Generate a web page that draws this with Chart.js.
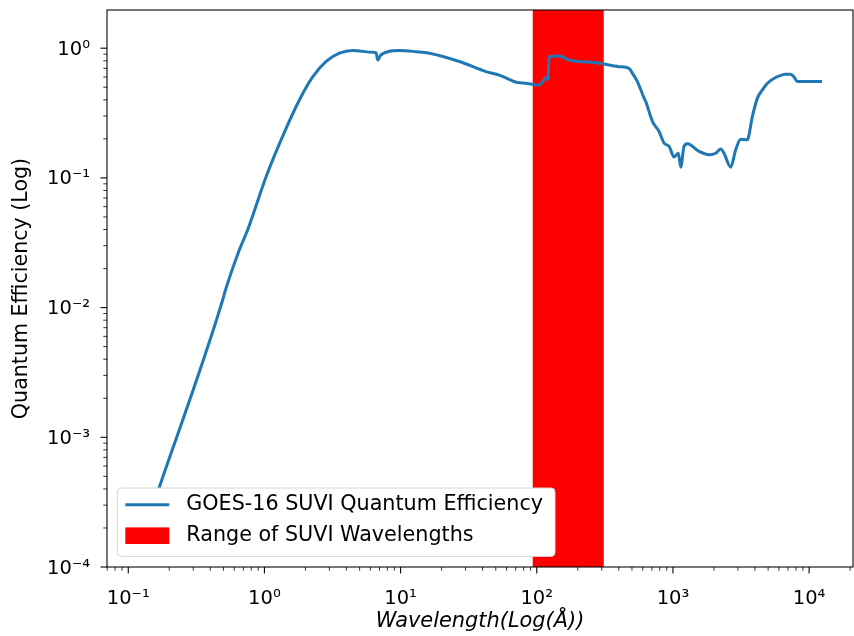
<!DOCTYPE html>
<html>
<head>
<meta charset="utf-8">
<script src="https://cdn.jsdelivr.net/npm/chart.js@4.4.1/dist/chart.umd.min.js"></script>
<style>
  html, body { margin: 0; padding: 0; background: #fff; }
  #wrap { width: 854px; height: 636px; }
</style>
</head>
<body>
<div id="wrap"><canvas id="qe" width="854" height="636"></canvas></div>
<script>
// GOES-16 SUVI quantum efficiency
const wavelength = [0.124, 0.170, 0.494, 0.509, 0.655, 0.755, 1.03, 1.36, 1.81, 2.26, 2.84,
  3.55, 4.45, 6.23, 6.6, 6.79, 7.18, 9.78, 13, 16.3, 27, 42.3, 53, 72.2, 83, 90.5, 104, 113, 120, 121, 123,
  146, 173, 183, 287, 402, 476, 504, 548, 614, 631, 708, 791, 861, 937, 1019, 1096, 1140, 1206, 1276, 1553,
  1840, 2061, 2241, 2371, 2654, 2890, 3144, 3516, 3828, 4169, 4539, 4942, 5675, 6725, 7315, 7745, 8190, 12140];
const quantumEff = [1.6e-4, 4.2e-4, 0.0115, 0.0129, 0.0279, 0.040, 0.1026, 0.209, 0.40, 0.60, 0.79,
  0.915, 0.96, 0.93, 0.925, 0.81, 0.89, 0.96, 0.94, 0.915, 0.79, 0.66, 0.62, 0.543, 0.537, 0.53, 0.52, 0.57, 0.60, 0.577, 0.86,
  0.87, 0.81, 0.80, 0.766, 0.72, 0.70, 0.64, 0.553, 0.412, 0.388, 0.272, 0.228, 0.185, 0.175, 0.145, 0.155, 0.121, 0.175, 0.183, 0.16,
  0.151, 0.155, 0.167, 0.155, 0.121, 0.165, 0.199, 0.197, 0.297, 0.412, 0.477, 0.537, 0.594, 0.631, 0.631, 0.60, 0.553, 0.553];

// shaded SUVI band (Angstrom)
const suviRange = [93, 311];

const xLimits = [0.0698, 21000];
const yLimits = [1e-4, 1.97];
const xMajor = [0.1, 1, 10, 100, 1000, 10000];
const xMajorLabels = ['10\u207B\u00B9', '10\u2070', '10\u00B9', '10\u00B2', '10\u00B3', '10\u2074'];
const yMajor = [1e-4, 1e-3, 1e-2, 1e-1, 1];
const yMajorLabels = ['10\u207B\u2074', '10\u207B\u00B3', '10\u207B\u00B2', '10\u207B\u00B9', '10\u2070'];

const legendLabels = ['GOES-16 SUVI Quantum Efficiency', 'Range of SUVI Wavelengths'];

const FONT = 'DejaVu Sans';
const LINE_BLUE = '#1f77b4';

function isPow10(v) {
  const l = Math.log10(v);
  return Math.abs(l - Math.round(l)) < 1e-9;
}

// all 1..9 x 10^n values between the limits
function logTicks(min, max) {
  const out = [];
  for (let e = Math.floor(Math.log10(min)); e <= Math.ceil(Math.log10(max)); e++) {
    for (let k = 1; k <= 9; k++) {
      const v = +(k * Math.pow(10, e)).toPrecision(6);
      if (v >= min * 0.9999 && v <= max * 1.0001) out.push({ value: v, major: k === 1 });
    }
  }
  return out;
}

function labelFor(majors, labels) {
  return (val) => {
    const i = majors.findIndex(m => Math.abs(Math.log10(m) - Math.log10(val)) < 1e-9);
    return i >= 0 ? labels[i] : '';
  };
}

function noPad(s) {
  s.paddingTop = 0; s.paddingBottom = 0; s.paddingLeft = 0; s.paddingRight = 0;
}

const frameAndLegend = {
  id: 'frameAndLegend',
  afterDraw(chart) {
    const ctx = chart.ctx;
    const a = chart.chartArea;
    const xs = chart.scales.x, ys = chart.scales.y;
    ctx.save();
    // tick marks
    ctx.strokeStyle = '#000';
    xs.ticks.forEach(t => {
      const px = xs.getPixelForValue(t.value);
      const major = isPow10(t.value);
      ctx.lineWidth = major ? 1.07 : 0.8;
      ctx.beginPath();
      ctx.moveTo(px, a.bottom);
      ctx.lineTo(px, a.bottom + (major ? 6.5 : 3.7));
      ctx.stroke();
    });
    ys.ticks.forEach(t => {
      const py = ys.getPixelForValue(t.value);
      const major = isPow10(t.value);
      ctx.lineWidth = major ? 1.07 : 0.8;
      ctx.beginPath();
      ctx.moveTo(a.left, py);
      ctx.lineTo(a.left - (major ? 6.5 : 3.7), py);
      ctx.stroke();
    });
    // axes frame
    ctx.lineWidth = 1.07;
    ctx.strokeRect(a.left, a.top, a.right - a.left, a.bottom - a.top);

    // legend, lower left
    const lx = a.left + 10.3, ly = a.bottom - 79, lw = 437.7, lh = 68.4;
    ctx.beginPath();
    ctx.roundRect(lx, ly, lw, lh, 4);
    ctx.fillStyle = '#ffffff';
    ctx.fill();
    ctx.strokeStyle = '#d6d6d6';
    ctx.lineWidth = 1;
    ctx.stroke();

    ctx.strokeStyle = LINE_BLUE;
    ctx.lineWidth = 3;
    ctx.beginPath();
    ctx.moveTo(lx + 8, ly + 16.7);
    ctx.lineTo(lx + 52, ly + 16.7);
    ctx.stroke();
    ctx.fillStyle = '#ff0000';
    ctx.fillRect(lx + 8, ly + 39.4, 44, 16.6);

    ctx.fillStyle = '#000';
    ctx.font = '20.7px "' + FONT + '"';
    ctx.textBaseline = 'middle';
    ctx.textAlign = 'left';
    ctx.fillText(legendLabels[0], lx + 69, ly + 17);
    ctx.fillText(legendLabels[1], lx + 69, ly + 48);
    ctx.restore();
  }
};

new Chart(document.getElementById('qe'), {
  type: 'line',
  data: {
    datasets: [
      {
        label: legendLabels[0],
        data: wavelength.map((w, i) => ({ x: w, y: quantumEff[i] })),
        borderColor: LINE_BLUE,
        borderWidth: 3,
        borderJoinStyle: 'round',
        borderCapStyle: 'square',
        pointRadius: 0,
        cubicInterpolationMode: 'monotone',
        fill: false,
        order: 0
      },
      {
        label: legendLabels[1],
        data: suviRange.map(w => ({ x: w, y: 2.5 })),
        borderWidth: 0,
        borderColor: 'rgba(0,0,0,0)',
        backgroundColor: '#ff0000',
        pointRadius: 0,
        fill: 'start',
        order: 1
      }
    ]
  },
  options: {
    responsive: false,
    animation: false,
    devicePixelRatio: 1,
    layout: { padding: { top: 10, right: 1, left: 0, bottom: 0 } },
    plugins: { legend: { display: false }, tooltip: { enabled: false } },
    scales: {
      x: {
        type: 'logarithmic',
        min: xLimits[0], max: xLimits[1],
        afterBuildTicks: s => { s.ticks = logTicks(xLimits[0], xLimits[1]); },
        afterFit: s => { s.height = 69; noPad(s); },
        grid: { display: false },
        border: { display: false },
        ticks: {
          autoSkip: false, maxRotation: 0, padding: 12,
          color: '#000', font: { family: FONT, size: 19.5 },
          callback: labelFor(xMajor, xMajorLabels)
        },
        title: {
          display: true, text: 'Wavelength(Log(\u00C5))', color: '#000',
          font: { family: FONT, size: 20.9, style: 'italic' },
          padding: { top: 0, bottom: 1.5 }
        }
      },
      y: {
        type: 'logarithmic',
        min: yLimits[0], max: yLimits[1],
        afterBuildTicks: s => { s.ticks = logTicks(yLimits[0], yLimits[1]); },
        afterFit: s => { s.width = 107; noPad(s); },
        grid: { display: false },
        border: { display: false },
        ticks: {
          autoSkip: false, padding: 9, labelOffset: 1.5,
          color: '#000', font: { family: FONT, size: 19.5 },
          callback: labelFor(yMajor, yMajorLabels)
        },
        title: {
          display: true, text: 'Quantum Efficiency (Log)', color: '#000',
          font: { family: FONT, size: 20.6 },
          padding: { top: 8.9, bottom: 0 }
        }
      }
    }
  },
  plugins: [frameAndLegend]
});
</script>
</body>
</html>
